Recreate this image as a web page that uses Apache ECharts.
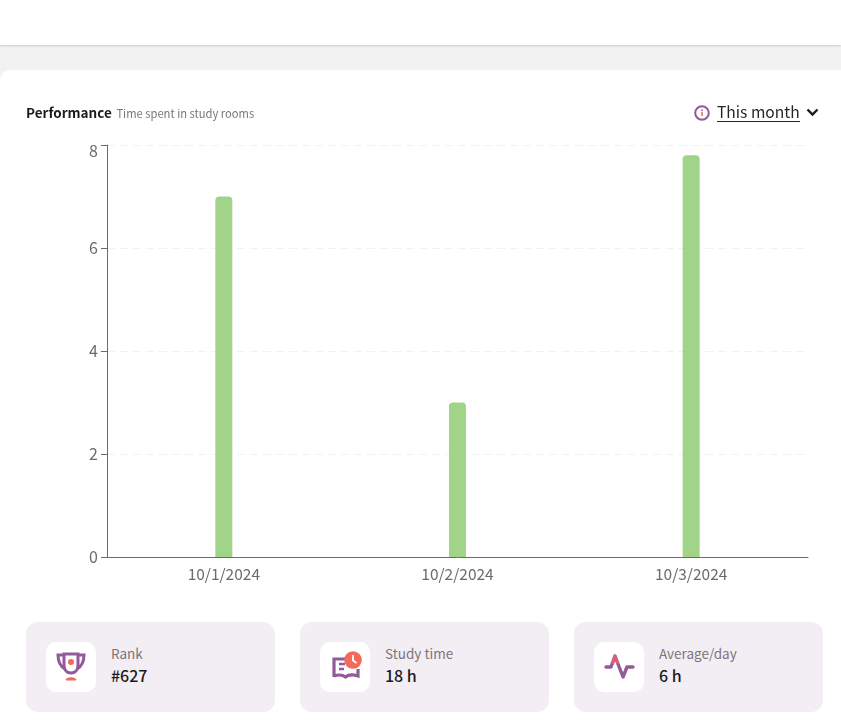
<!DOCTYPE html>
<html>
<head>
<meta charset="utf-8">
<title>Performance</title>
<script src="https://cdn.jsdelivr.net/npm/echarts@6/dist/echarts.min.js"></script>
<style>
    html, body { margin: 0; padding: 0; }
    body {
        position: relative;
        width: 841px;
        height: 720px;
        overflow: hidden;
        background: #f3f2f2;
        font-family: "Noto Sans CJK SC", "Noto Sans", sans-serif;
    }
    .topbar {
        position: absolute; left: 0; top: 0; width: 841px; height: 45px;
        background: #fff;
        box-shadow: 0 1px 2px rgba(0,0,0,.16);
    }
    .panel {
        position: absolute; left: 0; top: 70px; width: 841px; height: 650px;
        background: #fff;
        border-radius: 10px 0 0 0;
    }
    #chart { position: absolute; left: 0; top: 0; width: 841px; height: 600px; }
    .title { position: absolute; left: 26px; top: 102px; line-height: 18px; white-space: nowrap; }
    .title b { font-size: 13.5px; font-weight: 700; color: #1c1a1c; }
    .title span { font-size: 11.2px; color: #7b7578; margin-left: 1px; }
    .period { position: absolute; left: 717px; top: 101px; font-size: 15.6px; line-height: 20px; color: #2a2528; border-bottom: 1px solid #2a2528; }
    .info { position: absolute; left: 694px; top: 105px; }
    .chev { position: absolute; left: 806px; top: 107px; }
    .card {
        position: absolute; top: 622px; width: 249px; height: 90px;
        background: #f3eef4;
        border-radius: 12px;
    }
    .icon {
        position: absolute; left: 20px; top: 20px; width: 50px; height: 50px;
        background: #fff; border-radius: 10px;
    }
    .icon svg { position: absolute; left: 0; top: 0; }
    .label { position: absolute; left: 85px; top: 21px; font-size: 13.5px; line-height: 20px; color: #7b7578; white-space: nowrap; }
    .value { position: absolute; left: 85px; top: 42px; font-size: 16px; line-height: 22px; font-weight: 500; color: #1c1a1c; white-space: nowrap; }
</style>
</head>
<body>
    <div class="topbar"></div>
    <div class="panel"></div>
    <div id="chart"></div>
    <div class="title"><b>Performance</b> <span>Time spent in study rooms</span></div>
    <svg class="info" width="16" height="16" viewBox="0 0 16 16">
        <circle cx="8" cy="8" r="6.8" fill="none" stroke="#93599b" stroke-width="2"/>
        <rect x="7.2" y="7" width="1.6" height="4" fill="#f0705f"/>
        <rect x="7.2" y="4.6" width="1.6" height="1.5" fill="#93599b"/>
    </svg>
    <div class="period">This month</div>
    <svg class="chev" width="13" height="10" viewBox="0 0 13 10">
        <path d="M1.5 2.5 L6.5 7.5 L11.5 2.5" fill="none" stroke="#1c1a1c" stroke-width="2.4"/>
    </svg>

    <div class="card" style="left:26px">
        <div class="icon">
            <svg width="50" height="50" viewBox="0 0 50 50">
                <path d="M18 12 H32 V23 C32 28 29 31 25 31 C21 31 18 28 18 23 Z" fill="none" stroke="#93599b" stroke-width="3"/>
                <path d="M18 13 H12 C12 20 14 24 19 27 M32 13 H38 C38 20 36 24 31 27" fill="none" stroke="#93599b" stroke-width="3"/>
                <circle cx="25" cy="20" r="3" fill="#f4695a"/>
                <path d="M20 38 C20 35 30 35 30 38 Z" fill="#f4695a" stroke="#f4695a" stroke-width="1"/>
            </svg>
        </div>
        <div class="label">Rank</div>
        <div class="value">#627</div>
    </div>
    <div class="card" style="left:300px">
        <div class="icon">
            <svg width="50" height="50" viewBox="0 0 50 50">
                <path d="M14 35 V17 H27 M14 34 C20 32 23 33 25.5 35 C28 33 32 32 38 34 V27" fill="none" stroke="#93599b" stroke-width="3.2"/>
                <path d="M19 22 H25 M19 27 H24" stroke="#93599b" stroke-width="2.6"/>
                <circle cx="33" cy="18" r="8.8" fill="#f4695a"/>
                <path d="M33 13 V18.5 L36.5 21" fill="none" stroke="#fff" stroke-width="1.8"/>
            </svg>
        </div>
        <div class="label">Study time</div>
        <div class="value">18 h</div>
    </div>
    <div class="card" style="left:574px">
        <div class="icon">
            <svg width="50" height="50" viewBox="0 0 50 50">
                <path d="M12 25 H17 L21 14 L29 35 L33 25 H39" fill="none" stroke="#93599b" stroke-width="3.4" stroke-linejoin="round" stroke-linecap="round"/>
                <path d="M18.5 22 L21 14 L24 22" fill="none" stroke="#d9607a" stroke-width="3" stroke-linejoin="round"/>
            </svg>
        </div>
        <div class="label">Average/day</div>
        <div class="value">6 h</div>
    </div>

<script>
const categories = ['10/1/2024', '10/2/2024', '10/3/2024']
const hours = [7, 3, 7.8]
const yTicks = [0, 2, 4, 6, 8]

const fontName = '"Noto Sans CJK SC", "Noto Sans", sans-serif'
const axisColor = '#6b6b6b'

const chart = echarts.init(document.getElementById('chart'), null, { renderer: 'canvas' })
chart.setOption({
    animation: false,
    backgroundColor: 'transparent',
    grid: { left: 107, right: 33, top: 145, bottom: 43, containLabel: false },
    xAxis: {
        type: 'category',
        data: categories,
        axisLine: { lineStyle: { color: axisColor, width: 1 } },
        axisTick: { alignWithLabel: true, length: 6, lineStyle: { color: axisColor } },
        axisLabel: { color: '#6e6a6c', fontSize: 15.5, fontFamily: fontName, margin: 9 }
    },
    yAxis: {
        type: 'value',
        min: yTicks[0],
        max: yTicks[yTicks.length - 1],
        interval: yTicks[1] - yTicks[0],
        axisLine: { show: true, lineStyle: { color: axisColor, width: 1 } },
        axisTick: { show: true, length: 6, lineStyle: { color: axisColor } },
        axisLabel: { color: '#6e6a6c', fontSize: 16, fontFamily: fontName, margin: 9, lineHeight: 12, verticalAlignMaxLabel: 'top' },
        splitLine: { lineStyle: { color: '#f2f2f2', type: [8, 5] } }
    },
    series: [{
        type: 'bar',
        data: hours,
        barWidth: 17,
        itemStyle: { color: '#a1d389', borderRadius: [4, 4, 0, 0] }
    }]
})
</script>
</body>
</html>
